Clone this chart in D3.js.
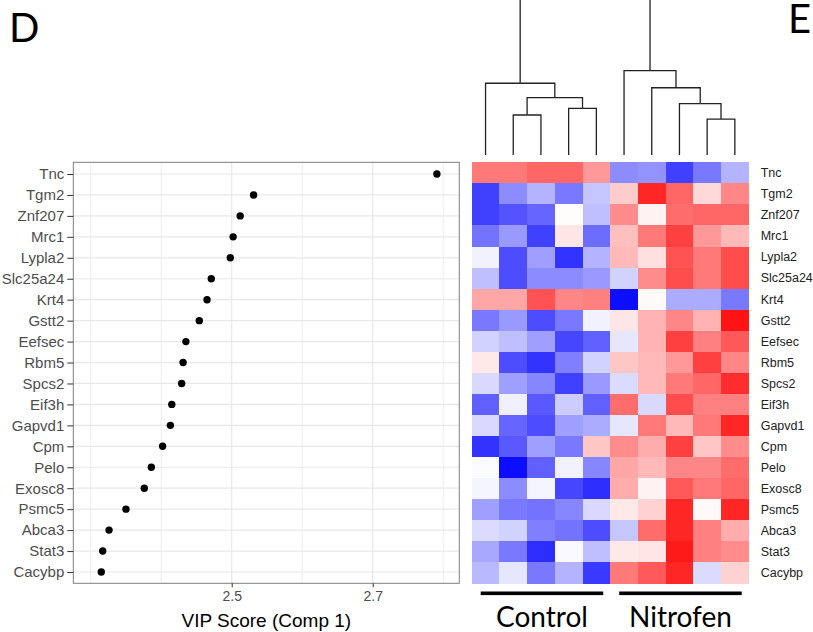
<!DOCTYPE html>
<html>
<head>
<meta charset="utf-8">
<script src="https://cdn.jsdelivr.net/npm/d3@7"></script>
<style>
  body { margin: 0; background: #fff; }
  svg { display: block; }
</style>
</head>
<body>
<svg id="fig" width="813" height="632"></svg>
<script>
// genes, top to bottom
var genes = ["Tnc","Tgm2","Znf207","Mrc1","Lypla2","Slc25a24","Krt4","Gstt2","Eefsec","Rbm5",
             "Spcs2","Eif3h","Gapvd1","Cpm","Pelo","Exosc8","Psmc5","Abca3","Stat3","Cacybp"];

// VIP scores (component 1)
var vipScores = [2.791,2.531,2.512,2.502,2.498,2.471,2.465,2.454,2.435,2.431,
                 2.429,2.415,2.413,2.402,2.386,2.376,2.350,2.326,2.317,2.315];

var xGrid = [2.3,2.4,2.5,2.6,2.7,2.8];
var xTicks = [2.5,2.7];

// heatmap samples (columns) and groups
var samples = ["C1","C2","C3","C4","C5","N1","N2","N3","N4","N5"];
var groups = [
  {name: "Control", from: "C1", to: "C5"},
  {name: "Nitrofen", from: "N1", to: "N5"}
];

// scaled expression, one row per gene
var zRows = [
  [1.05,1.05,1.2,1.2,0.8,-0.9,-0.85,-1.5,-1.05,-0.6],
  [-1.5,-0.9,-0.6,-1.05,-0.45,0.4,1.7,1.2,0.3,0.95],
  [-1.5,-1.35,-1.2,0.02,-0.5,0.9,0.1,1.15,1.2,1.2],
  [-1.1,-0.8,-1.5,0.2,-1.15,0.5,1.05,1.5,0.8,0.55],
  [-0.1,-1.4,-0.75,-1.6,-0.6,0.55,0.25,1.35,1.05,1.4],
  [-0.5,-1.4,-0.9,-0.9,-0.8,-0.35,0.9,1.4,1.05,1.4],
  [0.7,0.7,1.35,0.95,1.0,-1.9,0.03,-0.65,-0.65,-1.05],
  [-1.05,-0.8,-1.4,-1.05,-0.1,0.2,0.6,0.95,0.6,1.85],
  [-0.35,-0.5,-0.75,-1.45,-1.25,-0.2,0.6,1.5,1.0,1.3],
  [0.18,-1.4,-1.6,-1.0,-0.35,0.45,0.55,0.8,1.5,0.95],
  [-0.3,-0.75,-0.95,-1.5,-0.8,-0.28,0.55,1.05,1.2,1.65],
  [-1.25,-0.12,-1.3,-0.4,-1.25,1.15,-0.3,1.4,1.0,1.0],
  [-0.3,-1.2,-1.4,-0.75,-0.65,-0.2,1.05,0.55,1.05,1.7],
  [-1.6,-1.3,-0.75,-1.05,0.45,0.9,0.65,1.5,0.45,0.9],
  [-0.02,-1.9,-1.25,-0.1,-0.95,0.7,0.55,0.95,0.95,1.15],
  [-0.08,-0.9,-0.08,-1.45,-1.65,0.65,0.1,1.3,1.05,1.2],
  [-0.75,-1.05,-1.1,-0.95,-0.3,0.18,0.35,1.7,0.05,1.7],
  [-0.28,-0.35,-1.0,-1.1,-1.4,-0.45,1.15,1.7,1.0,0.65],
  [-0.68,-1.05,-1.65,-0.05,-0.5,0.18,0.2,1.8,1.0,0.9],
  [-0.55,-0.2,-1.05,-0.6,-1.55,1.05,1.3,1.7,-0.28,0.35]
];

// column dendrogram (merge heights in arbitrary distance units)
var colTree = {h: 12, children: [
  {h: 4.63, children: [
    {leaf: "C1"},
    {h: 3.70, children: [
      {h: 2.58, children: [{leaf: "C2"}, {leaf: "C3"}]},
      {h: 3.01, children: [{leaf: "C4"}, {leaf: "C5"}]}
    ]}
  ]},
  {h: 5.44, children: [
    {leaf: "N1"},
    {h: 4.34, children: [
      {leaf: "N2"},
      {h: 3.31, children: [
        {leaf: "N3"},
        {h: 2.32, children: [{leaf: "N4"}, {leaf: "N5"}]}
      ]}
    ]}
  ]}
]};

var svg = d3.select("#fig");
var axisFont = "Liberation Sans, Arial, sans-serif";
var labelFont = "Lato, Open Sans, sans-serif";

// ---------- panel D: VIP dot plot ----------
var pLeft = 73.3, pRight = 459.3, pTop = 162.3, pBottom = 583.3;

var x = d3.scaleLinear().domain([2.2753, 2.8228]).range([pLeft, pRight]);
var y = d3.scalePoint().domain(genes).range([174, 572]);

var dot = svg.append("g");

dot.selectAll("line.vgrid")
  .data(xGrid)
  .enter().append("line")
  .attr("class", "vgrid")
  .attr("x1", d => x(d)).attr("x2", d => x(d))
  .attr("y1", pTop).attr("y2", pBottom)
  .attr("stroke", "#e8e8e8")
  .attr("stroke-width", d => xTicks.indexOf(d) >= 0 ? 1.2 : 0.8);

dot.selectAll("line.hgrid")
  .data(genes)
  .enter().append("line")
  .attr("class", "hgrid")
  .attr("x1", pLeft).attr("x2", pRight)
  .attr("y1", d => y(d)).attr("y2", d => y(d))
  .attr("stroke", "#e8e8e8")
  .attr("stroke-width", 1.2);

dot.append("rect")
  .attr("x", pLeft).attr("y", pTop)
  .attr("width", pRight - pLeft).attr("height", pBottom - pTop)
  .attr("fill", "none")
  .attr("stroke", "#7f7f7f")
  .attr("stroke-width", 1);

dot.selectAll("circle")
  .data(genes)
  .enter().append("circle")
  .attr("cx", (d, i) => x(vipScores[i]))
  .attr("cy", d => y(d))
  .attr("r", 3.7)
  .attr("fill", "#000");

// y axis
var yAxis = dot.append("g")
  .attr("transform", "translate(" + pLeft + ",0)")
  .call(d3.axisLeft(y).tickSize(6).tickPadding(3));
yAxis.select(".domain").remove();
yAxis.selectAll(".tick line").attr("stroke", "#333").attr("stroke-width", 1);
yAxis.selectAll(".tick text")
  .attr("fill", "#4d4d4d")
  .style("font-family", axisFont)
  .style("font-size", "15px");

// x axis
var xAxis = dot.append("g")
  .attr("transform", "translate(0," + pBottom + ")")
  .call(d3.axisBottom(x).tickValues(xTicks).tickFormat(d3.format(".1f")).tickSize(4).tickPadding(4));
xAxis.select(".domain").remove();
xAxis.selectAll(".tick line").attr("stroke", "#333");
xAxis.selectAll(".tick text")
  .attr("fill", "#4d4d4d")
  .style("font-family", axisFont)
  .style("font-size", "14px");

dot.append("text")
  .attr("x", (pLeft + pRight) / 2)
  .attr("y", 627)
  .attr("text-anchor", "middle")
  .style("font-family", axisFont)
  .style("font-size", "19px")
  .attr("fill", "#000")
  .text("VIP Score (Comp 1)");

svg.append("text")
  .attr("x", 9).attr("y", 41.7)
  .style("font-family", labelFont)
  .style("font-size", "40px")
  .text("D");

svg.append("text")
  .attr("x", 788).attr("y", 33.3)
  .style("font-family", labelFont)
  .style("font-size", "40px")
  .text("E");

// ---------- panel E: heatmap ----------
var hLeft = 471.7, hRight = 748.7, hTop = 162.3, hBottom = 583.3;

var cx = d3.scaleBand().domain(samples).range([hLeft, hRight]);
var cy = d3.scaleBand().domain(genes).range([hTop, hBottom]);
var color = d3.scaleLinear().domain([-2, 0, 2]).range(["#0000ff", "#ffffff", "#ff0000"]).clamp(true);

var cells = [];
zRows.forEach(function(row, i) {
  row.forEach(function(v, j) {
    cells.push({gene: genes[i], sample: samples[j], value: v});
  });
});

var hm = svg.append("g");
hm.selectAll("rect")
  .data(cells)
  .enter().append("rect")
  .attr("x", d => cx(d.sample))
  .attr("y", d => cy(d.gene))
  .attr("width", cx.bandwidth() + 0.3)
  .attr("height", cy.bandwidth() + 0.3)
  .attr("fill", d => color(d.value))
  .attr("shape-rendering", "crispEdges");

hm.selectAll("text.gene")
  .data(genes)
  .enter().append("text")
  .attr("class", "gene")
  .attr("x", 760.7)
  .attr("y", d => cy(d) + cy.bandwidth() / 2)
  .attr("dy", "0.35em")
  .attr("fill", "#222")
  .style("font-family", axisFont)
  .style("font-size", "12.5px")
  .text(d => d);

// dendrogram
var root = d3.hierarchy(colTree);
var hY = d3.scaleLinear().domain([0, 10]).range([155, 0]);
root.eachAfter(function(n) {
  if (n.data.leaf) {
    n.px = cx(n.data.leaf) + cx.bandwidth() / 2;
    n.py = hY(0);
  } else {
    n.px = d3.mean(n.children, c => c.px);
    n.py = hY(n.data.h);
  }
});

var dend = svg.append("g")
  .attr("fill", "none")
  .attr("stroke", "#222")
  .attr("stroke-width", 1.3);

dend.selectAll("path")
  .data(root.links())
  .enter().append("path")
  .attr("d", l => "M" + l.source.px + "," + l.source.py + "H" + l.target.px + "V" + l.target.py);

// group bars and labels
groups.forEach(function(g) {
  var x0 = cx(g.from) + 9, x1 = cx(g.to) + cx.bandwidth() - 7;
  svg.append("rect")
    .attr("x", x0).attr("y", 591.5)
    .attr("width", x1 - x0).attr("height", 3.6)
    .attr("fill", "#000");
  svg.append("text")
    .attr("x", (x0 + x1) / 2)
    .attr("y", 626.5)
    .attr("text-anchor", "middle")
    .style("font-family", labelFont)
    .style("font-size", "28px")
    .attr("fill", "#000")
    .text(g.name);
});
</script>
</body>
</html>
